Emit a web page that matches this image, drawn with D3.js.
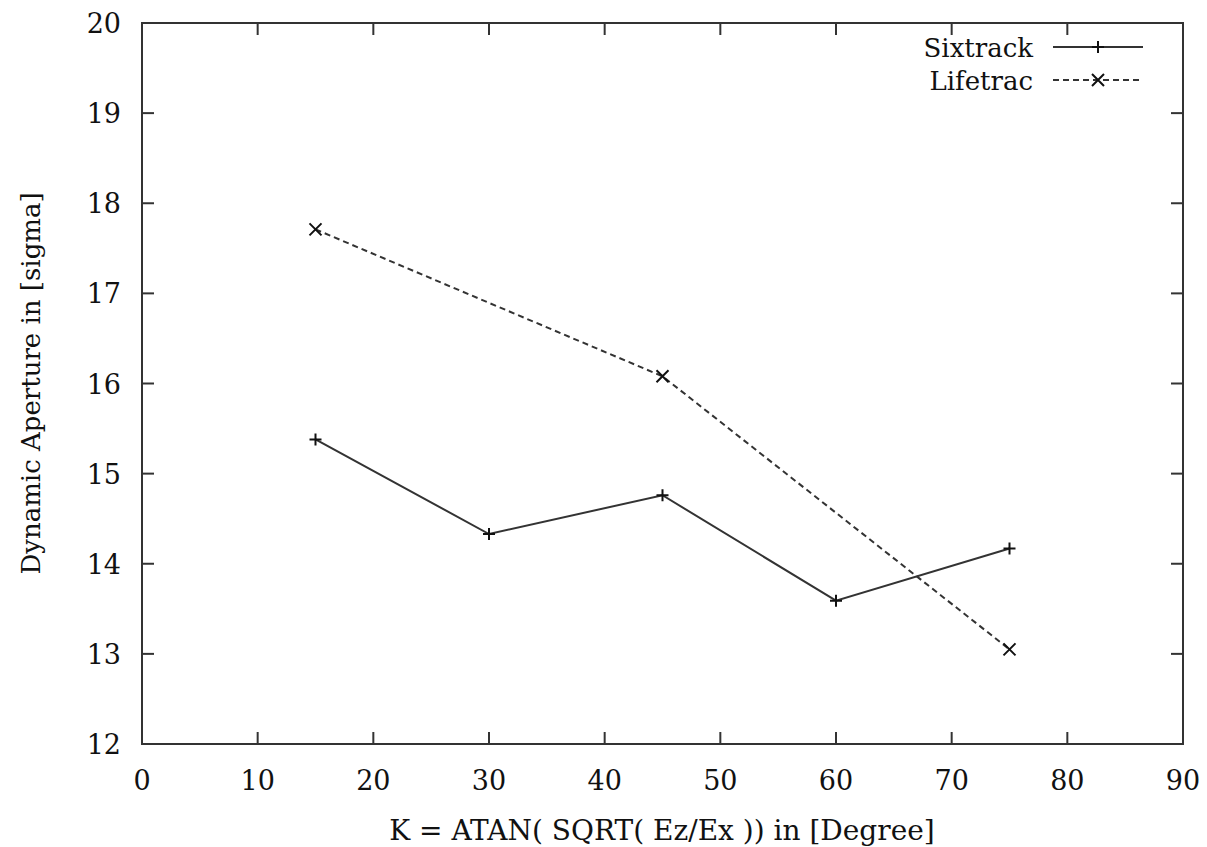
<!DOCTYPE html>
<html><head><meta charset="utf-8">
<script src="https://cdn.jsdelivr.net/npm/d3@7"></script>
<style>body{margin:0;background:#fff}svg{display:block}</style>
</head><body><svg id="c" width="1207" height="847"></svg>
<script>
const xTicks=[0,10,20,30,40,50,60,70,80,90];
const yTicks=[12,13,14,15,16,17,18,19,20];
const sixX=[15,30,45,60,75];
const sixY=[15.38,14.33,14.76,13.59,14.17];
const lifeX=[15,45,75];
const lifeY=[17.71,16.08,13.05];
const seriesNames=["Sixtrack","Lifetrac"];
const xLabel="K = ATAN( SQRT( Ez/Ex )) in [Degree]";
const yLabel="Dynamic Aperture in [sigma]";

const FF="DejaVu Serif";
const svg=d3.select("#c");
const L=142,R=1183,T=23,B=744;
const x=d3.scaleLinear().domain([0,90]).range([L,R]);
const y=d3.scaleLinear().domain([12,20]).range([B,T]);
const col="#333";
function txt(px,py,s,anchor,fs){return svg.append("text").attr("x",px).attr("y",py).attr("text-anchor",anchor).attr("font-family",FF).attr("font-size",fs).attr("fill","#111").text(s);}
const tl=12;
xTicks.forEach(v=>{
  svg.append("line").attr("x1",x(v)).attr("x2",x(v)).attr("y1",B).attr("y2",B-tl).attr("stroke",col).attr("stroke-width",2);
  svg.append("line").attr("x1",x(v)).attr("x2",x(v)).attr("y1",T).attr("y2",T+tl).attr("stroke",col).attr("stroke-width",2);
  txt(x(v),B+46,v,"middle",27);
});
yTicks.forEach(v=>{
  svg.append("line").attr("x1",L).attr("x2",L+tl).attr("y1",y(v)).attr("y2",y(v)).attr("stroke",col).attr("stroke-width",2);
  svg.append("line").attr("x1",R).attr("x2",R-tl).attr("y1",y(v)).attr("y2",y(v)).attr("stroke",col).attr("stroke-width",2);
  txt(L-21,y(v)+10,v,"end",27);
});
svg.append("rect").attr("x",L).attr("y",T).attr("width",R-L).attr("height",B-T).attr("fill","none").attr("stroke",col).attr("stroke-width",2);

txt(662,840,xLabel,"middle",28);
txt(0,0,yLabel,"middle",26).attr("transform",`translate(40,${(T+B)/2}) rotate(-90)`);

const line=d3.line().x(d=>x(d[0])).y(d=>y(d[1]));
const six=sixX.map((v,i)=>[v,sixY[i]]);
const life=lifeX.map((v,i)=>[v,lifeY[i]]);
svg.append("path").attr("d",line(six)).attr("fill","none").attr("stroke",col).attr("stroke-width",2);
svg.append("path").attr("d",line(life)).attr("fill","none").attr("stroke",col).attr("stroke-width",2).attr("stroke-dasharray","6,4");
const ms=6;
function plus(px,py){svg.append("path").attr("d",`M${px-ms},${py}H${px+ms}M${px},${py-ms}V${py+ms}`).attr("stroke","#111").attr("stroke-width",2);}
function cross(px,py){svg.append("path").attr("d",`M${px-ms},${py-ms}L${px+ms},${py+ms}M${px-ms},${py+ms}L${px+ms},${py-ms}`).attr("stroke","#111").attr("stroke-width",2);}
six.forEach(d=>plus(x(d[0]),y(d[1])));
life.forEach(d=>cross(x(d[0]),y(d[1])));

const ly=[47,80];
seriesNames.forEach((n,i)=>{
  txt(1033,ly[i]+10,n,"end",26);
  const ln=svg.append("line").attr("x1",1053).attr("x2",1143).attr("y1",ly[i]).attr("y2",ly[i]).attr("stroke",col).attr("stroke-width",2);
  if(i===1) ln.attr("stroke-dasharray","6,4");
  (i===0?plus:cross)(1098,ly[i]);
});
</script></body></html>
